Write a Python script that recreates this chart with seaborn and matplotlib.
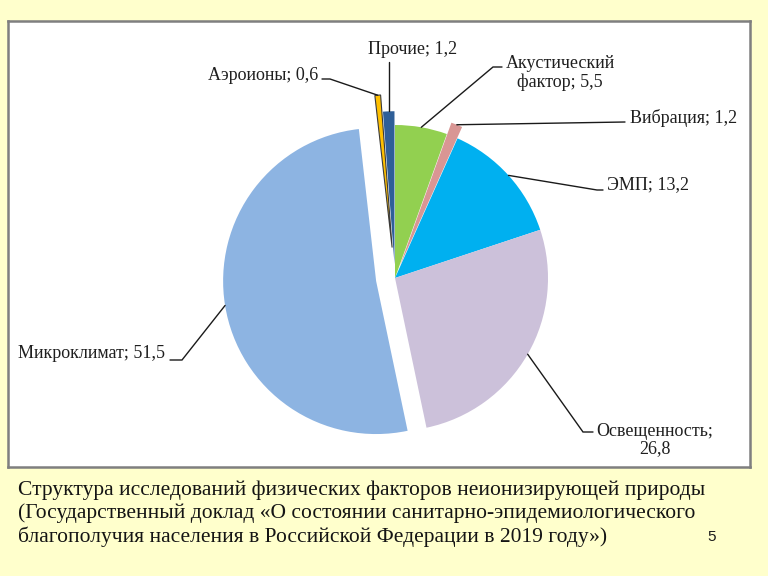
import numpy as np
import matplotlib
matplotlib.use("Agg")
import matplotlib.pyplot as plt
import seaborn as sns

# ---- data ----
categories = ["Акустический\nфактор", "Вибрация", "ЭМП", "Освещенность",
              "Микроклимат", "Аэроионы", "Прочие"]
values = [5.5, 1.2, 13.2, 26.8, 51.5, 0.6, 1.2]
value_labels = ["5,5", "1,2", "13,2", "26,8", "51,5", "0,6", "1,2"]
slice_colors = ["#92D050", "#D99694", "#00B0F0", "#CCC1DA",
                "#8DB4E2", "#FFC000", "#2F5F98"]
explode = [0, 0.08, 0, 0, 0.125, 0.2, 0.09]
caption = ("Структура исследований физических факторов неионизирующей природы\n"
           "(Государственный доклад «О состоянии санитарно-эпидемиологического\n"
           "благополучия населения в Российской Федерации в 2019 году»)")

sns.set_style("white")
plt.rcParams['font.family'] = ['Liberation Serif', 'DejaVu Serif']

W, H = 768, 576
fig = plt.figure(figsize=(W / 100, H / 100), dpi=100)
fig.patch.set_facecolor("#FFFFCC")

# frame/axes in pixels
fx0, fx1, fy0, fy1 = 8, 750, 21, 467
ax = fig.add_axes([fx0 / W, (H - fy1) / H, (fx1 - fx0) / W, (fy1 - fy0) / H])
cx, cy, R = 395, 278, 153  # pie center (px, from top) and radius

palette = sns.color_palette(slice_colors)
wedges, _ = ax.pie(values, colors=palette, startangle=90, counterclock=False,
                   explode=explode, radius=1,
                   wedgeprops=dict(linewidth=0))
wedges[5].set_edgecolor("#3A3A3A")
wedges[5].set_linewidth(0.8)

ax.set_xlim((fx0 - cx) / R, (fx1 - cx) / R)
ax.set_ylim((cy - fy1) / R, (cy - fy0) / R)
ax.set_aspect("auto")
ax.set_facecolor("white")
ax.set_frame_on(True)
for s in ax.spines.values():
    s.set_visible(True)
    s.set_color("#7F7F7F")
    s.set_linewidth(1.8)


def d(px, py):
    return ((px - cx) / R, (cy - py) / R)


def anchor(w):
    mid = np.deg2rad((w.theta1 + w.theta2) / 2)
    c = w.center
    return (c[0] + w.r * np.cos(mid), c[1] + w.r * np.sin(mid))


txt_color = "#1F1F1F"
fs = 13
# layout: (text position px, ha, leader path px after anchor)
layout = {
    0: ((560, 73), "center", [(493, 67), (502, 67)]),
    1: ((630, 118), "left", [(625, 122)]),
    2: ((607, 185), "left", [(597, 190), (603, 190)]),
    3: ((655, 440), "center", [(583, 432), (593, 432)]),
    4: ((165, 353), "right", [(182, 360), (170, 360)]),
    5: ((318, 75), "right", [(330, 79), (322, 79)]),
    6: ((413, 50), "center", None),
}
for i, (pos, ha, path) in layout.items():
    name = categories[i]
    if i == 3:
        label = name + ";\n" + value_labels[i]
    else:
        label = name + "; " + value_labels[i]
    tx, ty = d(*pos)
    ax.text(tx, ty, label, ha=ha, va="center", multialignment="center",
            fontsize=fs, color=txt_color, clip_on=False, linespacing=1.05)
    a = anchor(wedges[i])
    if path is None:
        pts = [a, (a[0], d(0, 62)[1])]
    else:
        pts = [a] + [d(*p) for p in path]
    xs, ys = zip(*pts)
    ax.plot(xs, ys, color="#1A1A1A", lw=1.0, clip_on=False,
            solid_joinstyle="miter")

fig.text(18 / W, 1 - 481 / H, caption, ha="left", va="top", fontsize=15.5,
         color="#141414", linespacing=1.2)
fig.text(712 / W, 1 - 537 / H, "5", ha="center", va="center", fontsize=11,
         family=["Liberation Sans", "DejaVu Sans"], color="#1A1A1A")

fig.savefig("out.png", dpi=100, facecolor=fig.get_facecolor())
